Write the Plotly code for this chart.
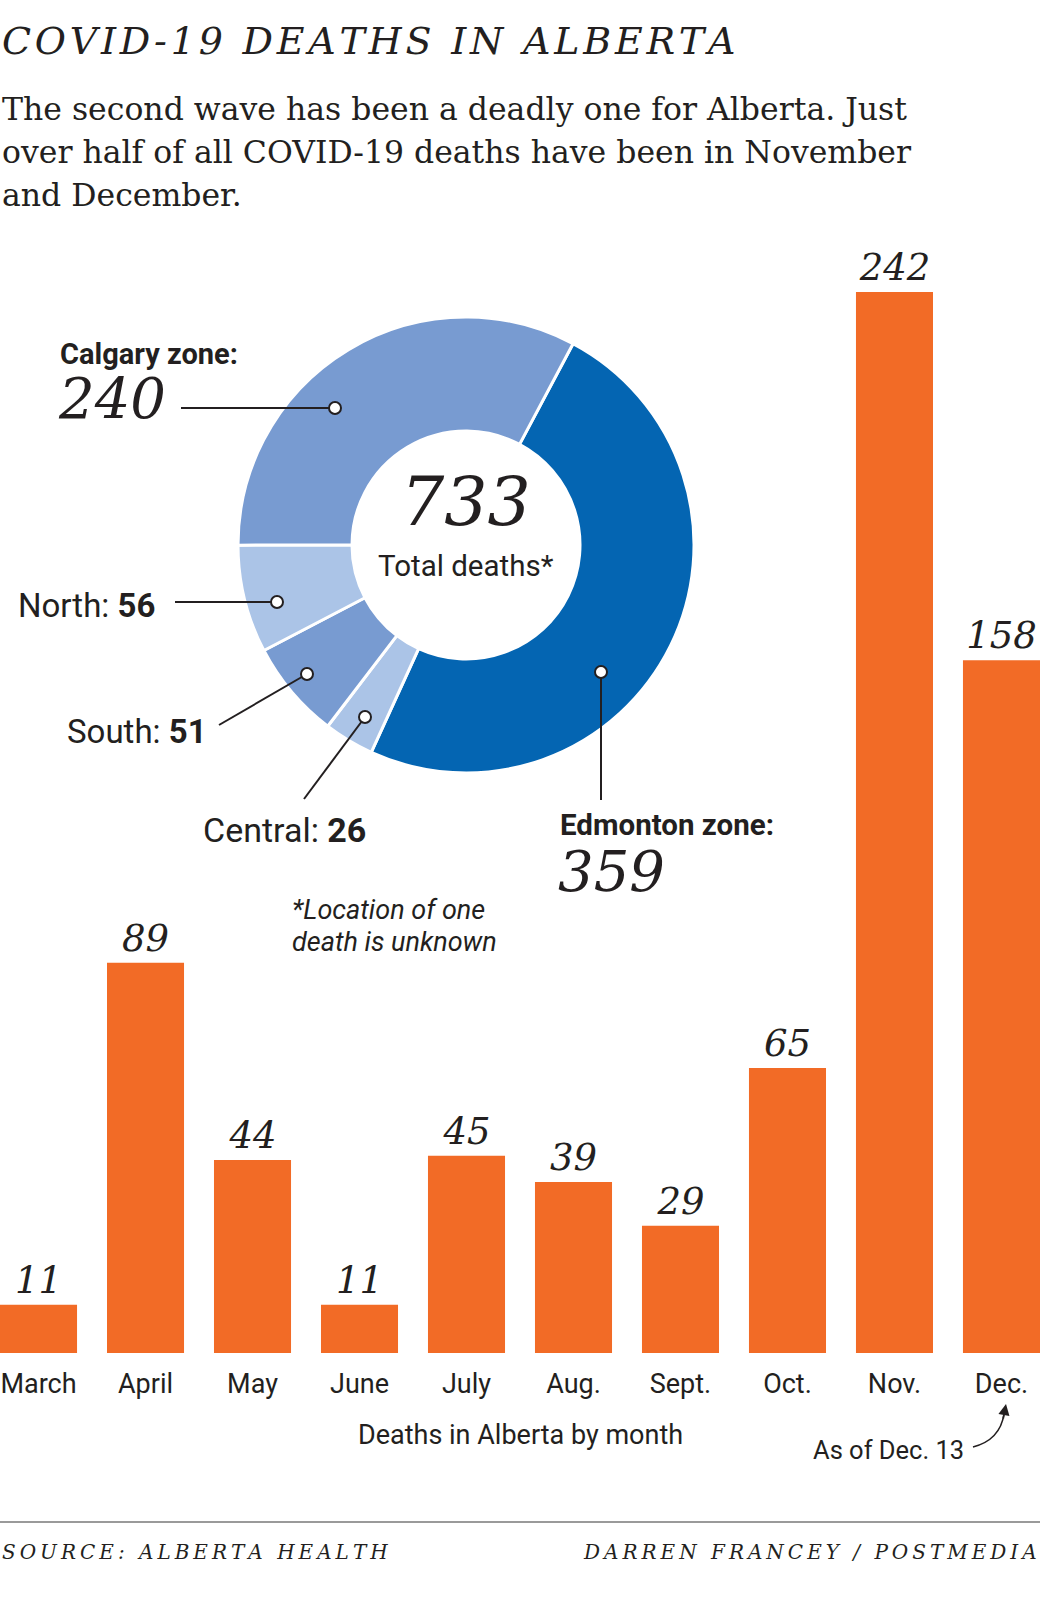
import plotly.graph_objects as go

# data
months = ["March", "April", "May", "June", "July", "Aug.", "Sept.", "Oct.", "Nov.", "Dec."]
deaths = [11, 89, 44, 11, 45, 39, 29, 65, 242, 158]

zones = ["Edmonton", "Central", "South", "North", "Calgary"]
zone_deaths = [359, 26, 51, 56, 240]
zone_colors = ["#0465b2", "#abc4e7", "#789bd1", "#abc4e7", "#789bd1"]
total_deaths = 733

W, H = 1042, 1597
SANS = "Roboto, Liberation Sans, sans-serif"
SERIF = "DejaVu Serif, serif"
INK = "#231f20"
ORANGE = "#f26b26"


def px(x):
    return x / W


def py(y):
    return 1 - y / H


def spaced(s, gap="\u2009"):
    return gap.join(s)


fig = go.Figure()

# monthly bars
fig.add_trace(go.Bar(
    x=months, y=deaths,
    marker=dict(color=ORANGE, line_width=0),
    text=deaths, textposition="outside", cliponaxis=False,
    textfont=dict(family=SERIF, size=37, style="italic", color=INK),
    hoverinfo="skip", showlegend=False,
))

# zone donut
cx, cy, r = 466, 545, 228
fig.add_trace(go.Pie(
    labels=zones, values=zone_deaths, sort=False, direction="clockwise", rotation=28,
    hole=0.5, textinfo="none", hoverinfo="skip", showlegend=False,
    marker=dict(colors=zone_colors, line=dict(color="white", width=3)),
    domain=dict(x=[px(cx - r), px(cx + r)], y=[py(cy + r), py(cy - r)]),
))

fig.update_layout(
    width=W, height=H, margin=dict(l=0, r=0, t=0, b=0),
    paper_bgcolor="white", plot_bgcolor="white",
    bargap=0.28,
    xaxis=dict(domain=[0, 1040 / W], range=[-0.36, 9.36], showgrid=False, zeroline=False,
               showline=False, ticks="", tickfont=dict(family=SANS, size=27, color=INK),
               ticklabelstandoff=12),
    yaxis=dict(domain=[py(1353), py(1353 - 250 * 1061 / 242)], range=[0, 250], visible=False),
)

ann = []


def note(x, y, text, size, family=SANS, anchor="left", style="normal", yanchor="middle"):
    ann.append(dict(x=px(x), y=py(y), xref="paper", yref="paper", text=text, showarrow=False,
                    xanchor=anchor, yanchor=yanchor,
                    font=dict(family=family, size=size, color=INK, style=style)))


# headings
note(0, 41, spaced("COVID-19 DEATHS IN ALBERTA", "\u200a"), 38, SERIF, style="italic")
note(0, 109, "The second wave has been a deadly one for Alberta. Just", 31.5, SERIF)
note(0, 152, "over half of all COVID-19 deaths have been in November", 31.5, SERIF)
note(0, 195, "and December.", 31.5, SERIF)

# donut labels
note(58, 354, "<b>Calgary zone:</b>", 29)
note(56, 399, "240", 56, SERIF, style="italic")
note(16, 605, "North: <b>56</b>", 33)
note(65, 731, "South: <b>51</b>", 33)
note(201, 830, "Central: <b>26</b>", 34)
note(558, 825, "<b>Edmonton zone:</b>", 29.5)
note(556, 871, "359", 56, SERIF, style="italic")
note(cx, 502, str(total_deaths), 68, SERIF, anchor="center", style="italic")
note(cx, 566, "Total deaths*", 29.5, anchor="center")
note(290, 910, "*Location of one", 27, style="italic")
note(290, 942, "death is unknown", 27, style="italic")

# bar chart notes
note(520, 1435, "Deaths in Alberta by month", 27, anchor="center")
note(888, 1450, "As of Dec. 13", 25.5, anchor="center")
note(0, 1552, spaced("SOURCE: ALBERTA HEALTH"), 20, SERIF, style="italic")
note(1039, 1552, spaced("DARREN FRANCEY / POSTMEDIA"), 20, SERIF, anchor="right", style="italic")

# arrowhead pointing to Dec.
ann.append(dict(x=px(1006), y=py(1404), ax=-3, ay=16, xref="paper", yref="paper",
                text="", showarrow=True, arrowhead=2, arrowsize=1.4, arrowwidth=1.6,
                arrowcolor=INK, standoff=0))
fig.update_layout(annotations=ann)

# leader lines with small circles
shapes = []
leaders = [
    ((181, 408), (335, 408)),
    ((175, 602), (277, 602)),
    ((219, 725), (307, 674)),
    ((304, 799), (365, 717)),
    ((601, 800), (601, 672)),
]
for (x0, y0), (x1, y1) in leaders:
    shapes.append(dict(type="line", xref="paper", yref="paper", x0=px(x0), y0=py(y0),
                       x1=px(x1), y1=py(y1), line=dict(color=INK, width=2)))
for _, (x1, y1) in leaders:
    shapes.append(dict(type="circle", xref="paper", yref="paper", xsizemode="pixel",
                       ysizemode="pixel", xanchor=px(x1), yanchor=py(y1),
                       x0=-6, x1=6, y0=-6, y1=6,
                       line=dict(color=INK, width=2), fillcolor="white"))

# curved arrow stem
shapes.append(dict(type="path", xref="paper", yref="paper",
                   path=f"M {px(973)},{py(1447)} Q {px(1000)},{py(1440)} {px(1004)},{py(1414)}",
                   line=dict(color=INK, width=1.6)))

# footer rule
shapes.append(dict(type="line", xref="paper", yref="paper", x0=0, x1=px(1040),
                   y0=py(1522), y1=py(1522), line=dict(color="#9a9a9a", width=2)))
fig.update_layout(shapes=shapes)

fig.write_html("out.html", config={"displayModeBar": False},
               post_script="document.body.style.margin='0';")
